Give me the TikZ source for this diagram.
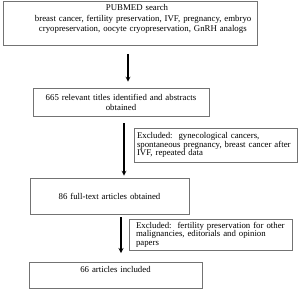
\documentclass[tikz,border=0pt]{standalone}
\usepackage{fontspec}
\setmainfont{Liberation Serif}
\usepackage{tikz}

\begin{document}
\begin{tikzpicture}[
  x=1pt, y=-1pt,
  box/.style={draw=black!55, line width=0.6pt, align=center,
              font=\fontsize{8.8}{10.5}\selectfont, inner sep=4pt},
  exbox/.style={draw=black!55, line width=0.6pt, align=left,
                font=\fontsize{8.8}{8.4}\selectfont, inner ysep=3pt},
  arrow/.style={->, >=stealth, line width=1.2pt},
]
  \useasboundingbox (0,0) rectangle (300,289);

  % Main flow boxes
  \node[box, align=left, anchor=north, text width=246pt, minimum width=254pt,
        inner ysep=3.5pt] (pubmed) at (130,0.6)
    {\hspace*{99pt}PUBMED search\\
     \hspace*{28pt}breast cancer, fertility preservation, IVF, pregnancy, embryo\\
     \hspace*{32pt}cryopreservation, oocyte cryopreservation, GnRH analogs\\\mbox{}};
  \node[box, text width=168pt, minimum width=176pt, minimum height=28pt,
        font=\fontsize{8.8}{10}\selectfont] (titles) at (121,102)
    {665 relevant titles identified and abstracts\\obtained};
  \node[box, text width=151pt, minimum width=159pt, minimum height=36pt] (fulltext) at (109.5,196)
    {86 full-text articles obtained};
  \node[box, anchor=north, text width=165pt, minimum width=173pt,
        inner ysep=3pt, text height=7.5pt, text depth=12.5pt] (included) at (115.5,262)
    {66 articles included};

  % Exclusion boxes
  \node[exbox, inner xsep=3pt, text width=157pt, minimum height=34pt] (exone) at (215.5,145)
    {Excluded:\ \ gynecological cancers,\\spontaneous pregnancy, breast cancer after\\IVF, repeated data};
  \node[exbox, inner xsep=7pt, text width=149pt, minimum height=27pt] (extwo) at (210.5,234.5)
    {Excluded:\ \ fertility preservation for other\\malignancies, editorials and opinion\\papers};

  % Arrows between the stages
  \draw[arrow, shorten <=8pt, shorten >=6pt] ([xshift=-2pt]pubmed.south) -- ([xshift=-2pt]pubmed.south |- titles.north);
  \draw[arrow, shorten <=7pt, shorten >=2pt] ([xshift=3pt]titles.south) -- ([xshift=3pt]titles.south |- fulltext.north);
  \draw[arrow, shorten <=3pt, shorten >=9pt] ([xshift=11.5pt]fulltext.south) -- ([xshift=11.5pt]fulltext.south |- included.north);
\end{tikzpicture}
\end{document}
